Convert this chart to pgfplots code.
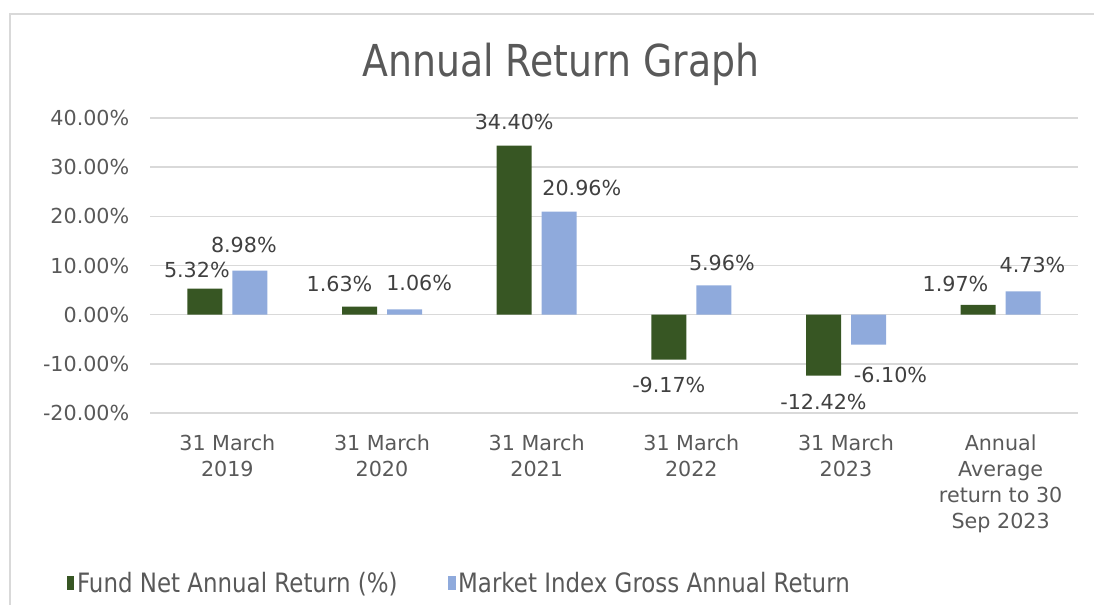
\documentclass[border=0pt]{standalone}
\usepackage{pgfplots}
\pgfplotsset{compat=1.18}
\usepackage{pgfplotstable}
\usepackage{fontspec}
\setmainfont{DejaVu Sans}
\newfontfamily\condfont{DejaVu Sans}[FakeStretch=0.86]
\definecolor{fundgreen}{HTML}{375623}
\definecolor{idxblue}{HTML}{8FAADC}
\definecolor{txt}{HTML}{595959}
\definecolor{lbl}{HTML}{404040}
\definecolor{gridc}{HTML}{D9D9D9}

\pgfplotstableread{
x y lab dx dy
0 5.32 5.32 -6 14
1 1.63 1.63 -15 17
2 34.40 34.40 0 18
3 -9.17 -9.17 0 -19
4 -12.42 -12.42 0 -20
5 1.97 1.97 -17 16
}\fund
\pgfplotstableread{
x y lab dx dy
0 8.98 8.98 -4.5 19
1 1.06 1.06 11 19.5
2 20.96 20.96 17 18
3 5.96 5.96 6 17
4 -6.10 -6.10 16.5 -22.5
5 4.73 4.73 7 19.5
}\index

\begin{document}
\begin{tikzpicture}
\path[use as bounding box] (0,0) rectangle (820.5pt,453.75pt);
\draw[gridc, line width=1.5pt] (7.5pt,0) -- (7.5pt,443.25pt) -- (820.5pt,443.25pt);
\node[anchor=base, font=\condfont\fontsize{33}{33}\selectfont, text=txt] at (420.75pt,396pt) {Annual Return Graph};
\begin{axis}[
  at={(112.5pt,144pt)}, anchor=south west,
  scale only axis, width=696pt, height=221.25pt,
  clip=false,
  xmin=-0.5, xmax=5.5, ymin=-20, ymax=40,
  ybar=7.5pt, bar width=26.25pt,
  ytick={-20,-10,0,10,20,30,40},
  yticklabels={-20.00\%,-10.00\%,0.00\%,10.00\%,20.00\%,30.00\%,40.00\%},
  xtick={0,1,2,3,4,5},
  xticklabels={{31 March\\2019},{31 March\\2020},{31 March\\2021},{31 March\\2022},{31 March\\2023},{Annual\\Average\\return to 30\\Sep 2023}},
  xticklabel style={align=center, font=\fontsize{15.5}{19.5}\selectfont, text=txt, anchor=north, yshift=-12.5pt},
  yticklabel style={font=\fontsize{15.5}{19.5}\selectfont, text=txt, anchor=east, xshift=-12pt},
  axis line style={draw=none},
  major tick length=0pt,
  ymajorgrids, grid style={gridc, line width=1.1pt},
  point meta=explicit symbolic,
  visualization depends on={\thisrow{dx}\as\dx},
  visualization depends on={\thisrow{dy}\as\dy},
  nodes near coords={\pgfplotspointmeta\%},
  every node near coord/.append style={anchor=center, xshift=\dx pt, yshift=\dy pt, font=\fontsize{15.5}{19}\selectfont, text=lbl},
  legend style={at={(-0.094,-0.576)}, anchor=west, draw=none, fill=none, legend columns=2,
    font=\condfont\fontsize{20}{20}\selectfont, text=txt,
    /tikz/every even column/.append style={column sep=36pt}},
  legend cell align=left,
  legend image code/.code={\fill[#1] (0pt,-5.5pt) rectangle (5.5pt,5.5pt);},
]
\addplot[fill=fundgreen, draw=none] table[x=x, y=y, meta=lab] {\fund};
\addlegendentry{Fund Net Annual Return (\%)}
\addplot[fill=idxblue, draw=none] table[x=x, y=y, meta=lab] {\index};
\addlegendentry{Market Index Gross Annual Return}
\end{axis}
\end{tikzpicture}
\end{document}
